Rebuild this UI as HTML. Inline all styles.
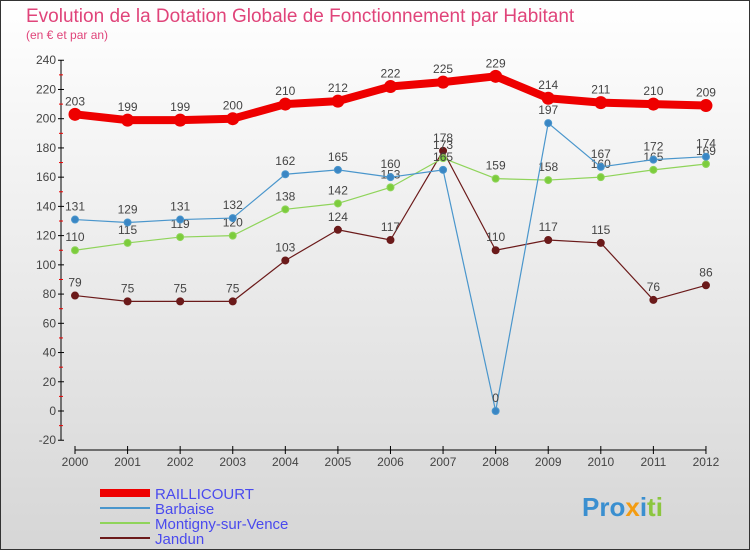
<!DOCTYPE html>
<html><head><meta charset="utf-8"><style>
body{margin:0}
#c{width:750px;height:550px;position:relative;font-family:"Liberation Sans",sans-serif}
</style></head><body>
<div id="c">
<svg id="s" width="750" height="550" xmlns="http://www.w3.org/2000/svg">
<defs><linearGradient id="bg" x1="0" y1="0" x2="0" y2="1"><stop offset="0" stop-color="#ffffff"/><stop offset="1" stop-color="#d6d6d6"/></linearGradient></defs>
<rect x="0.5" y="0.5" width="749" height="549" fill="url(#bg)" stroke="#333"/>
<text x="26" y="22" font-size="19" fill="#e0447a">Evolution de la Dotation Globale de Fonctionnement par Habitant</text>
<text x="26" y="39" font-size="12" fill="#e0447a">(en € et par an)</text>
<g id="axes"></g><g id="series"></g><g id="legend"></g>
<text x="582" y="516" font-size="26" font-weight="bold" fill="#3a8fd0">Pro<tspan fill="#f39c12">x</tspan><tspan fill="#3a8fd0">i</tspan><tspan fill="#8cc63f">ti</tspan></text>
</svg></div>
<script>
const years=[2000,2001,2002,2003,2004,2005,2006,2007,2008,2009,2010,2011,2012];
const yTicks=[-20,0,20,40,60,80,100,120,140,160,180,200,220,240];
const raillicourt=[203,199,199,200,210,212,222,225,229,214,211,210,209];
const barbaise=[131,129,131,132,162,165,160,165,0,197,167,172,174];
const montigny=[110,115,119,120,138,142,153,173,159,158,160,165,169];
const jandun=[79,75,75,75,103,124,117,178,110,117,115,76,86];
const NS="http://www.w3.org/2000/svg";
const X=i=>75+i*52.58, Y=v=>411-v*1.4615;
function mk(t,a,p){const e=document.createElementNS(NS,t);for(const k in a)e.setAttribute(k,a[k]);p.appendChild(e);return e;}
const ax=document.getElementById('axes');
let l=mk('line',{x1:61,y1:60,x2:61,y2:440,stroke:'#000'},ax);


l=mk('line',{x1:75,y1:450,x2:706,y2:450,stroke:'#000'},ax);


yTicks.forEach((v,i)=>{const y=Y(v);mk('line',{x1:58,y1:y,x2:64,y2:y,stroke:'#000'},ax);
 if(i<yTicks.length-1)mk('line',{x1:59,y1:y-14.6,x2:63,y2:y-14.6,stroke:'#e00'},ax);
 const t=mk('text',{x:56,y:y+4,'text-anchor':'end','font-size':12,fill:'#444'},ax);t.textContent=v;
 
 });
years.forEach((yr,i)=>{const x=X(i);mk('line',{x1:x,y1:446,x2:x,y2:454,stroke:'#000'},ax);
 const t=mk('text',{x:x,y:466,'text-anchor':'middle','font-size':12,fill:'#444'},ax);t.textContent=yr;
 
 });
const sg=document.getElementById('series');
function series(name,vals,col,w,r,dot){const g=mk('g',{},sg);
 
 
 mk('polyline',{points:vals.map((v,i)=>X(i)+','+Y(v)).join(' '),fill:'none',stroke:col,'stroke-width':w,'stroke-linejoin':'round'},g);
 vals.forEach((v,i)=>{const c=mk('circle',{cx:X(i),cy:Y(v),r:r,fill:dot,stroke:col,'stroke-width':1},g);
  
  
  const t=mk('text',{x:X(i),y:Y(v)-9,'text-anchor':'middle','font-size':12,fill:'#444'},g);t.textContent=v;
  
  });}
series('jandun',jandun,'#6b1a1a',1.2,3.5,'#6b1a1a');
series('montigny',montigny,'#8fd45a',1.2,3.5,'#7ccc3c');
series('barbaise',barbaise,'#4a96cc',1.2,3.5,'#3a86c4');
series('raillicourt',raillicourt,'#ee0000',8,6,'#ee0000');
const lg=document.getElementById('legend');
const items=[['RAILLICOURT','#ee0000',8],['Barbaise','#4a96cc',2],['Montigny-sur-Vence','#8fd45a',2],['Jandun','#6b1a1a',2]];
items.forEach((it,i)=>{const y=493+i*15;const g=mk('g',{},lg);
 
 
 mk('line',{x1:100,y1:y,x2:150,y2:y,stroke:it[1],'stroke-width':it[2]},g);
 const t=mk('text',{x:155,y:y+6,'font-size':15,fill:'#4a4aee'},g);t.textContent=it[0];});
</script>
</body></html>
